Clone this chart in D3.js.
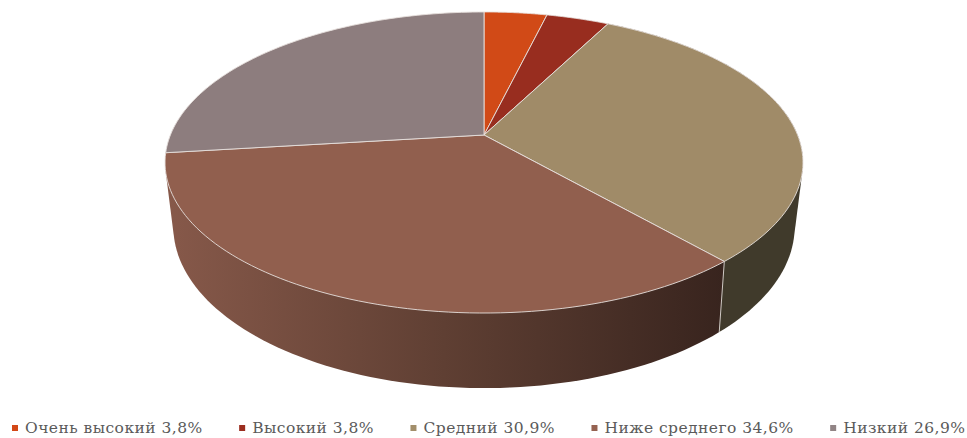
<!DOCTYPE html>
<html><head><meta charset="utf-8">
<script src="https://cdn.jsdelivr.net/npm/d3@7"></script>
<style>html,body{margin:0;background:#fff}svg{display:block}</style></head>
<body><svg id="c" width="967" height="438"></svg>
<script>
const categories = ["Очень высокий","Высокий","Средний","Ниже среднего","Низкий"];
const values = [3.8,3.8,30.9,34.6,26.9];
const valueLabels = ["3,8%","3,8%","30,9%","34,6%","26,9%"];
const colors = ["#d34817","#9b2d1f","#a28e6a","#956251","#918485"];
const faceColors = ["#d14a17","#982d1f","#a08b68","#915f4e","#8d7d7e"];
const wallRamp = ["#87594a","#5f3f33","#38241e"];
const wallFlat = "#403a2b";

const svg = d3.select("#c");
const pie = d3.pie().sort(null).value(d=>d)(values);

const ringTop = {cx:484,y0:135,A:145.5,B:313.6,k:-0.1827};
const ringBottom = {cx:484,y0:196,A:155.6,B:305,k:-0.19};
function pt(r,a){const u=Math.sin(a),v=-Math.cos(a),w=1+r.k*v;return [r.cx+r.B*u/w,r.y0+r.A*v/w];}
function samples(a0,a1){return d3.range(0,81).map(i=>a0+(a1-a0)*i/80);}
const line=d3.line();

const defs=svg.append("defs");
const grad=defs.append("linearGradient").attr("id","wall").attr("gradientUnits","userSpaceOnUse")
  .attr("x1",165).attr("x2",724).attr("y1",0).attr("y2",0);
wallRamp.forEach((c,i)=>grad.append("stop").attr("offset",i/(wallRamp.length-1)).attr("stop-color",c));

// Each wall is the convex hull of its top and bottom arcs, so the silhouette runs straight from ring to ring
function wall(a0,a1){const s=samples(a0,a1);return line(d3.polygonHull(s.map(a=>pt(ringTop,a)).concat(s.map(a=>pt(ringBottom,a)))))+"Z";}
const d2=pie[2],d3s=pie[3];
svg.append("path").attr("d",wall(d2.startAngle,d2.endAngle)).attr("fill",wallFlat);
svg.append("path").attr("d",wall(d3s.startAngle,d3s.endAngle)).attr("fill","url(#wall)");
svg.append("path").attr("d",line([pt(ringTop,d2.endAngle),pt(ringBottom,d2.endAngle)]))
  .attr("stroke","#cfc9c4").attr("stroke-width",1).attr("fill","none");

svg.selectAll("path.top").data(pie).join("path").attr("class","top")
  .attr("d",d=>line([[ringTop.cx,ringTop.y0]].concat(samples(d.startAngle,d.endAngle).map(a=>pt(ringTop,a))))+"Z")
  .attr("fill",(d,i)=>faceColors[i]).attr("stroke","#e6e0dc").attr("stroke-width",0.9).attr("stroke-linejoin","round");

const font="'DejaVu Serif'";
let x=15;
const lg=svg.append("g");
categories.forEach((c,i)=>{
  lg.append("rect").attr("x",x-3).attr("y",425).attr("width",6).attr("height",6).attr("fill",colors[i]);
  const t=lg.append("text").attr("x",x+10).attr("y",433).attr("font-family",font).attr("font-size",15.5)
    .attr("letter-spacing",0.45).attr("fill","#5a5a5a").text(c+" "+valueLabels[i]);
  x+=10+t.node().getComputedTextLength()+39.5;
});
</script></body></html>
